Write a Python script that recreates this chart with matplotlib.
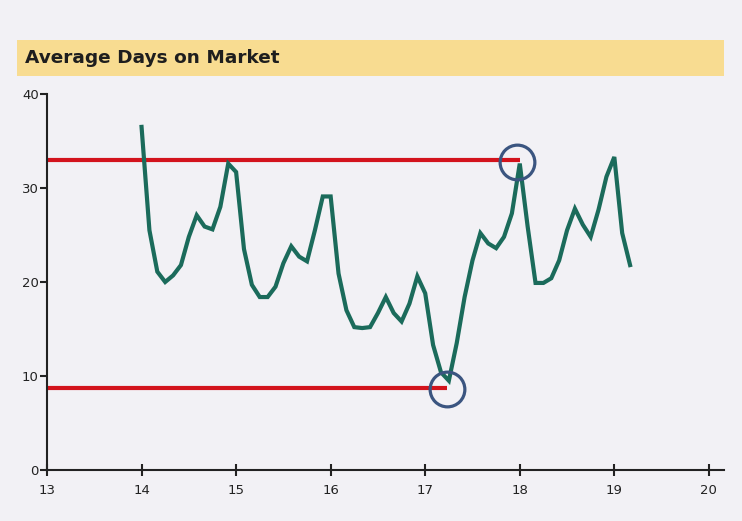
import matplotlib
matplotlib.use("Agg")
import matplotlib.pyplot as plt
import numpy as np
from matplotlib.patches import Rectangle

# monthly average days on market, Jan 2014 .. Mar 2019
start_year = 14
days = [36.5, 25.5, 21.1, 20.0, 20.7, 21.8, 24.8, 27.1, 25.9, 25.6, 28.0, 32.6,
        31.7, 23.5, 19.7, 18.4, 18.4, 19.5, 22.0, 23.8, 22.7, 22.2, 25.5, 29.1,
        29.1, 20.9, 17.0, 15.2, 15.1, 15.2, 16.7, 18.4, 16.7, 15.8, 17.7, 20.6,
        18.8, 13.3, 10.4, 9.5, 13.5, 18.4, 22.3, 25.2, 24.1, 23.6, 24.8, 27.3,
        32.6, 25.9, 19.9, 19.9, 20.4, 22.3, 25.5, 27.8, 26.1, 24.8, 27.7, 31.2,
        33.3, 25.2, 21.8]

# annotation lines: (level, end year)
high_level, high_end = 33.0, 18.0
low_level, low_end = 8.7, 17.23
# circled points
circle_x = [17.97, 17.23]
circle_y = [32.8, 8.6]

xticks = [13, 14, 15, 16, 17, 18, 19, 20]
yticks = [0, 10, 20, 30, 40]

bg = "#f2f1f5"
x = start_year + np.arange(len(days)) / 12.0

fig = plt.figure(figsize=(7.42, 5.21), dpi=100)
fig.patch.set_facecolor(bg)

# title band
fig.patches.append(Rectangle((17/742, 1 - 76/521), (724-17)/742, 36/521,
                             transform=fig.transFigure, facecolor="#f8dc91",
                             edgecolor="none", zorder=0))
fig.text(25/742, 1 - 58/521, "Average Days on Market", fontsize=13.3,
         fontweight="bold", color="#1e1e1e", va="center", ha="left")

ax = fig.add_axes([47/742, 51/521, (724-47)/742, (470-94)/521])
ax.set_facecolor(bg)
ax.set_xlim(13, 20.16)
ax.set_ylim(0, 40)

ax.plot(x, days, color="#1b6b5b", lw=3.0, solid_joinstyle="miter", zorder=3)

ax.plot([13, high_end], [high_level, high_level], color="#d3131c", lw=3.0,
        solid_capstyle="butt", zorder=2)
ax.plot([13, low_end], [low_level, low_level], color="#d3131c", lw=3.0,
        solid_capstyle="butt", zorder=2)

ax.plot(circle_x, circle_y, ls="none", marker="o", markersize=25,
        markerfacecolor="none", markeredgecolor="#3b5580", markeredgewidth=2.3,
        zorder=4)

for s in ["top", "right"]:
    ax.spines[s].set_visible(False)
for s in ["left", "bottom"]:
    ax.spines[s].set_color("#222222")
    ax.spines[s].set_linewidth(1.5)

ax.set_xticks(xticks)
ax.set_yticks(yticks)
ax.tick_params(axis="x", direction="inout", length=8, width=1.5,
               colors="#222222", labelsize=9.5, pad=6)
ax.tick_params(axis="y", direction="out", length=5, width=1.5,
               colors="#222222", labelsize=9.5, pad=1)

plt.savefig("out.png", dpi=100, facecolor=bg)
